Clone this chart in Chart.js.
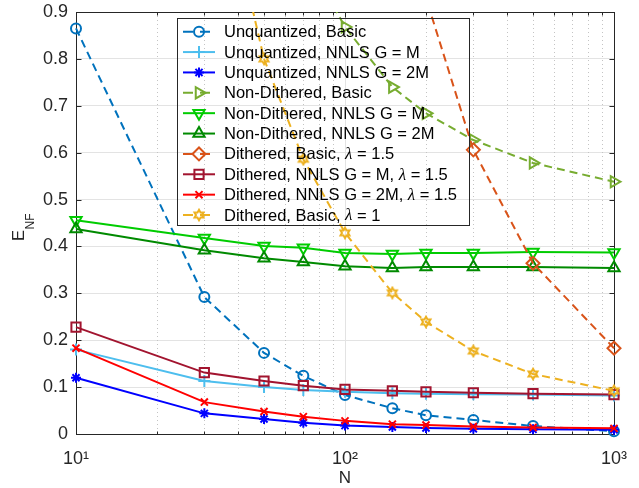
<!DOCTYPE html>
<html>
<head>
<meta charset="utf-8">
<script src="https://cdn.jsdelivr.net/npm/chart.js@4.4.1/dist/chart.umd.min.js"></script>
<style>
  body { margin: 0; background: #fff; }
  #wrap { width: 639px; height: 488px; }
</style>
</head>
<body>
<div id="wrap"><canvas id="enfChart" width="639" height="488"></canvas></div>
<script>
// N values on the (log) x axis
const nValues = [10, 30, 50, 70, 100, 150, 200, 300, 500, 1000];

// E_NF (values above 0.9 leave the plot and are clipped)
const unqBasic   = [0.865, 0.292, 0.173, 0.124, 0.083, 0.055, 0.040, 0.030, 0.017, 0.006];
const unqNnlsM   = [0.180, 0.113, 0.100, 0.094, 0.090, 0.087, 0.086, 0.085, 0.084, 0.082];
const unqNnls2M  = [0.120, 0.044, 0.032, 0.024, 0.018, 0.015, 0.013, 0.011, 0.010, 0.009];
const ndBasic    = [2.000, 1.400, 1.150, 1.030, 0.868, 0.740, 0.684, 0.627, 0.578, 0.538];
const ndNnlsM    = [0.456, 0.418, 0.401, 0.397, 0.386, 0.384, 0.386, 0.386, 0.388, 0.387];
const ndNnls2M   = [0.437, 0.392, 0.375, 0.367, 0.358, 0.354, 0.356, 0.356, 0.356, 0.354];
const dBasic15   = [4.000, 2.500, 1.900, 1.500, 1.300, 1.100, 0.930, 0.606, 0.364, 0.183];
const dNnlsM15   = [0.228, 0.131, 0.113, 0.103, 0.095, 0.092, 0.090, 0.088, 0.086, 0.084];
const dNnls2M15  = [0.183, 0.068, 0.048, 0.037, 0.028, 0.021, 0.019, 0.016, 0.014, 0.012];
const dBasic1    = [2.500, 1.350, 0.800, 0.586, 0.429, 0.301, 0.239, 0.177, 0.128, 0.092];

const seriesLabels = [
  'Unquantized, Basic',
  'Unquantized, NNLS G = M',
  'Unquantized, NNLS G = 2M',
  'Non-Dithered, Basic',
  'Non-Dithered, NNLS G = M',
  'Non-Dithered, NNLS G = 2M',
  'Dithered, Basic, λ = 1.5',
  'Dithered, NNLS G = M, λ = 1.5',
  'Dithered, NNLS G = 2M, λ = 1.5',
  'Dithered, Basic, λ = 1'
];
const seriesValues = [unqBasic, unqNnlsM, unqNnls2M, ndBasic, ndNnlsM, ndNnls2M,
                      dBasic15, dNnlsM15, dNnls2M15, dBasic1];

// tick marks / grid on the log axis
const xMajorTicks = [10, 100, 1000];
const xMinorTicks = [20, 30, 40, 50, 60, 70, 80, 90, 200, 300, 400, 500, 600, 700, 800, 900];
const xTickLabels = { 10: '10¹', 100: '10²', 1000: '10³' };
const yTickValues = [0, 0.1, 0.2, 0.3, 0.4, 0.5, 0.6, 0.7, 0.8, 0.9];

const FONT = "'Liberation Sans', Arial, Helvetica, sans-serif";
const AXIS_COLOR = '#262626';

// matlab style hexagram, drawn once on a small canvas
function makeHexagram(color) {
  const c = document.createElement('canvas');
  c.width = 14; c.height = 14;
  const g = c.getContext('2d');
  g.strokeStyle = color;
  g.lineWidth = 2;
  g.beginPath();
  for (let k = 0; k < 12; k++) {
    const r = k % 2 === 0 ? 5.2 : 3;
    const a = -Math.PI / 2 + k * Math.PI / 6;
    const px = 7 + r * Math.cos(a), py = 7 + r * Math.sin(a);
    k === 0 ? g.moveTo(px, py) : g.lineTo(px, py);
  }
  g.closePath();
  g.stroke();
  return c;
}

const dash = [8, 5];
const looks = [
  { color: '#0072BD', dash: dash, point: 'circle',   radius: 5,   rot: 0 },
  { color: '#4DBEEE', dash: [],   point: 'cross',    radius: 6,   rot: 0 },
  { color: '#0000FF', dash: [],   point: 'star',     radius: 5,   rot: 0 },
  { color: '#77AC30', dash: dash, point: 'triangle', radius: 6.5, rot: 90 },
  { color: '#00CC00', dash: [],   point: 'triangle', radius: 6.5, rot: 180 },
  { color: '#008A00', dash: [],   point: 'triangle', radius: 6.5, rot: 0 },
  { color: '#D95319', dash: dash, point: 'rectRot',  radius: 6.5, rot: 0 },
  { color: '#A2142F', dash: [],   point: 'rect',     radius: 6.5, rot: 0 },
  { color: '#FF0000', dash: [],   point: 'crossRot', radius: 5,   rot: 0 },
  { color: '#EDB120', dash: dash, point: makeHexagram('#EDB120'), radius: 6, rot: 0 }
];

const datasets = seriesValues.map((vals, i) => ({
  label: seriesLabels[i],
  data: nValues.map((n, j) => ({ x: n, y: vals[j] })),
  borderColor: looks[i].color,
  borderWidth: 2,
  borderDash: looks[i].dash,
  pointStyle: looks[i].point,
  pointRadius: looks[i].radius,
  pointRotation: looks[i].rot,
  pointBorderColor: looks[i].color,
  pointBackgroundColor: 'rgba(0,0,0,0)',
  pointBorderWidth: 2,
  tension: 0,
  fill: false,
  order: seriesValues.length - 1 - i,
  clip: { left: 12, right: 12, top: 0, bottom: 12 }
}));

// grid on x, box and inside ticks like matlab
const axesFrame = {
  id: 'axesFrame',
  beforeDatasetsDraw(chart) {
    const { ctx, chartArea: a, scales: { x, y } } = chart;
    ctx.save();
    ctx.lineWidth = 1;
    ctx.strokeStyle = '#c4c4c4';
    ctx.setLineDash([1, 3]);
    xMinorTicks.forEach(v => {
      const px = Math.round(x.getPixelForValue(v)) + 0.5;
      ctx.beginPath(); ctx.moveTo(px, a.top); ctx.lineTo(px, a.bottom); ctx.stroke();
    });
    ctx.setLineDash([]);
    ctx.strokeStyle = '#e3e3e3';
    xMajorTicks.forEach(v => {
      const px = Math.round(x.getPixelForValue(v)) + 0.5;
      ctx.beginPath(); ctx.moveTo(px, a.top); ctx.lineTo(px, a.bottom); ctx.stroke();
    });

    // box
    ctx.strokeStyle = AXIS_COLOR;
    const L = Math.round(a.left) + 0.5, R = Math.round(a.right) + 0.5;
    const T = Math.round(a.top) + 0.5, B = Math.round(a.bottom) + 0.5;
    ctx.strokeRect(L, T, R - L, B - T);

    // inside ticks
    ctx.beginPath();
    yTickValues.forEach(v => {
      const py = Math.round(y.getPixelForValue(v)) + 0.5;
      ctx.moveTo(L, py); ctx.lineTo(L + 5, py);
      ctx.moveTo(R, py); ctx.lineTo(R - 5, py);
    });
    xMajorTicks.concat(xMinorTicks).forEach(v => {
      const px = Math.round(x.getPixelForValue(v)) + 0.5;
      const len = xMajorTicks.includes(v) ? 5 : 3;
      ctx.moveTo(px, B); ctx.lineTo(px, B - len);
      ctx.moveTo(px, T); ctx.lineTo(px, T + len);
    });
    ctx.stroke();
    ctx.restore();
  },
  afterDatasetsDraw(chart) {
    const { ctx } = chart;
    ctx.save();

    // axis titles
    ctx.fillStyle = AXIS_COLOR;
    ctx.font = `17px ${FONT}`;
    ctx.textAlign = 'center';
    ctx.textBaseline = 'middle';
    ctx.fillText('N', 345, 478);

    ctx.translate(24, 241);
    ctx.rotate(-Math.PI / 2);
    ctx.textAlign = 'left';
    ctx.textBaseline = 'alphabetic';
    ctx.font = `16.5px ${FONT}`;
    ctx.fillText('E', 0, 0);
    const eW = ctx.measureText('E').width;
    ctx.font = `12px ${FONT}`;
    ctx.fillText('NF', eW + 0.5, 9.5);
    ctx.setTransform(1, 0, 0, 1, 0, 0);

    // legend box (transparent, like the reference)
    const bx = 177.5, by = 18.5, bw = 292, bh = 207;
    ctx.strokeStyle = AXIS_COLOR;
    ctx.lineWidth = 1;
    ctx.strokeRect(bx, by, bw, bh);

    seriesLabels.forEach((label, i) => {
      const ly = 31.7 + i * 20.37;
      const lk = looks[i];
      ctx.strokeStyle = lk.color;
      ctx.lineWidth = 2;
      ctx.setLineDash(lk.dash.length ? [10, 7] : []);
      ctx.beginPath(); ctx.moveTo(183, ly); ctx.lineTo(215, ly); ctx.stroke();
      ctx.setLineDash([]);
      ctx.fillStyle = 'rgba(0,0,0,0)';
      Chart.helpers.drawPoint(ctx, {
        pointStyle: lk.point, radius: lk.radius, rotation: lk.rot, borderWidth: 2
      }, 199, ly);

      // text, lambda in italic serif like the tex interpreter
      ctx.fillStyle = '#000000';
      ctx.textAlign = 'left';
      ctx.textBaseline = 'middle';
      const parts = label.split('λ');
      let tx = 224;
      ctx.font = `16.5px ${FONT}`;
      ctx.fillText(parts[0], tx, ly + 1);
      tx += ctx.measureText(parts[0]).width;
      if (parts.length > 1) {
        ctx.font = `italic 17px 'Liberation Serif', 'DejaVu Serif', serif`;
        ctx.fillText('λ', tx, ly + 1);
        tx += ctx.measureText('λ').width;
        ctx.font = `16.5px ${FONT}`;
        ctx.fillText(parts[1], tx, ly + 1);
      }
    });
    ctx.restore();
  }
};

const ctx = document.getElementById('enfChart').getContext('2d');
new Chart(ctx, {
  type: 'line',
  data: { datasets: datasets },
  options: {
    responsive: false,
    animation: false,
    layout: { padding: { top: 12, right: 25, left: 0, bottom: 0 } },
    plugins: {
      legend: { display: false },
      tooltip: { enabled: false }
    },
    scales: {
      x: {
        type: 'logarithmic',
        min: 10,
        max: 1000,
        afterBuildTicks: s => { s.ticks = xMajorTicks.concat(xMinorTicks).sort((p, q) => p - q).map(v => ({ value: v })); },
        afterFit: s => { s.height = 54; s.paddingLeft = 0; s.paddingRight = 0; },
        grid: { display: false },
        border: { display: false },
        ticks: {
          autoSkip: false,
          maxRotation: 0,
          padding: 6,
          color: AXIS_COLOR,
          font: { family: FONT, size: 18 },
          callback: v => xTickLabels[v] || ''
        }
      },
      y: {
        min: 0,
        max: 0.9,
        afterBuildTicks: s => { s.ticks = yTickValues.map(v => ({ value: v })); },
        afterFit: s => { s.width = 76; s.paddingTop = 0; s.paddingBottom = 0; },
        grid: { color: '#e3e3e3', lineWidth: 1, drawTicks: false },
        border: { display: false },
        ticks: {
          padding: 8,
          color: AXIS_COLOR,
          font: { family: FONT, size: 18 },
          callback: v => String(Math.round(v * 10) / 10)
        }
      }
    }
  },
  plugins: [axesFrame]
});
</script>
</body>
</html>
